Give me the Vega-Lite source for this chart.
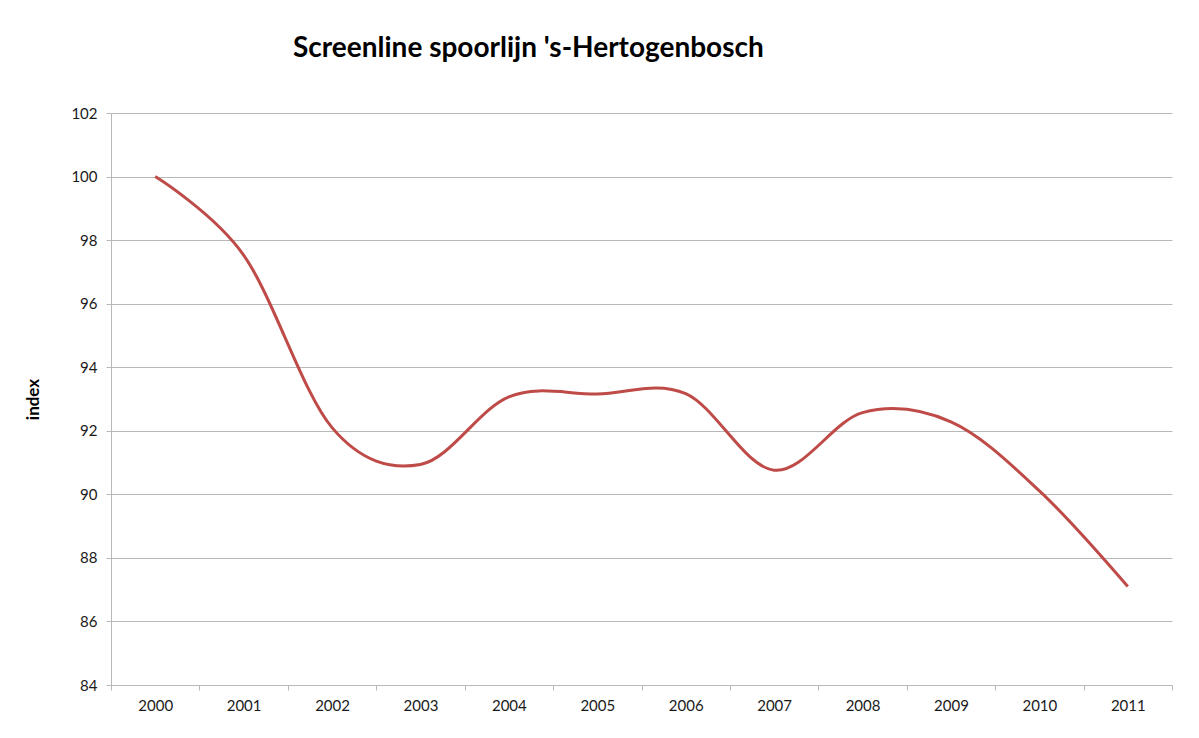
{
  "$schema": "https://vega.github.io/schema/vega-lite/v6.json",
  "width": 1061,
  "height": 572,
  "autosize": {"type": "none"},
  "padding": {"left": 111, "top": 113, "right": 27, "bottom": 53},
  "background": "white",
  "title": {
    "text": "Screenline spoorlijn 's-Hertogenbosch",
    "anchor": "start",
    "frame": "group",
    "dx": 182,
    "offset": 21,
    "baseline": "alphabetic",
    "font": "Lato",
    "fontSize": 28,
    "fontWeight": "bold",
    "color": "#000000"
  },
  "config": {
    "view": {"stroke": null},
    "axis": {
      "labelFont": "Lato",
      "labelFontSize": 15,
      "labelColor": "#1a1a1a",
      "domainColor": "#b8b8b8",
      "tickColor": "#b8b8b8",
      "gridColor": "#b8b8b8",
      "domainWidth": 1,
      "tickSize": 5,
      "titleFont": "Lato",
      "titleColor": "#000000"
    }
  },
  "data": {
    "values": [
      {"year": "2000", "index": 100.0},
      {"year": "2001", "index": 97.53},
      {"year": "2002", "index": 92.1},
      {"year": "2003", "index": 90.94},
      {"year": "2004", "index": 93.07},
      {"year": "2005", "index": 93.16},
      {"year": "2006", "index": 93.17},
      {"year": "2007", "index": 90.76},
      {"year": "2008", "index": 92.57},
      {"year": "2009", "index": 92.28},
      {"year": "2010", "index": 90.11},
      {"year": "2011", "index": 87.1}
    ]
  },
  "mark": {"type": "line", "interpolate": "cardinal", "color": "#BE4B48", "strokeWidth": 3},
  "encoding": {
    "x": {
      "field": "year",
      "type": "ordinal",
      "bandPosition": 0.5,
      "scale": {"type": "band", "paddingInner": 0, "paddingOuter": 0},
      "axis": {
        "title": null,
        "labelAngle": 0,
        "tickBand": "extent",
        "labelPadding": 8,
        "grid": false
      }
    },
    "y": {
      "field": "index",
      "type": "quantitative",
      "scale": {"domain": [84, 102], "nice": false, "zero": false},
      "axis": {
        "values": [84, 86, 88, 90, 92, 94, 96, 98, 100, 102],
        "title": "index",
        "titleFontSize": 17,
        "titleFontWeight": "bold",
        "titlePadding": 28,
        "labelPadding": 9,
        "grid": true
      }
    }
  }
}
